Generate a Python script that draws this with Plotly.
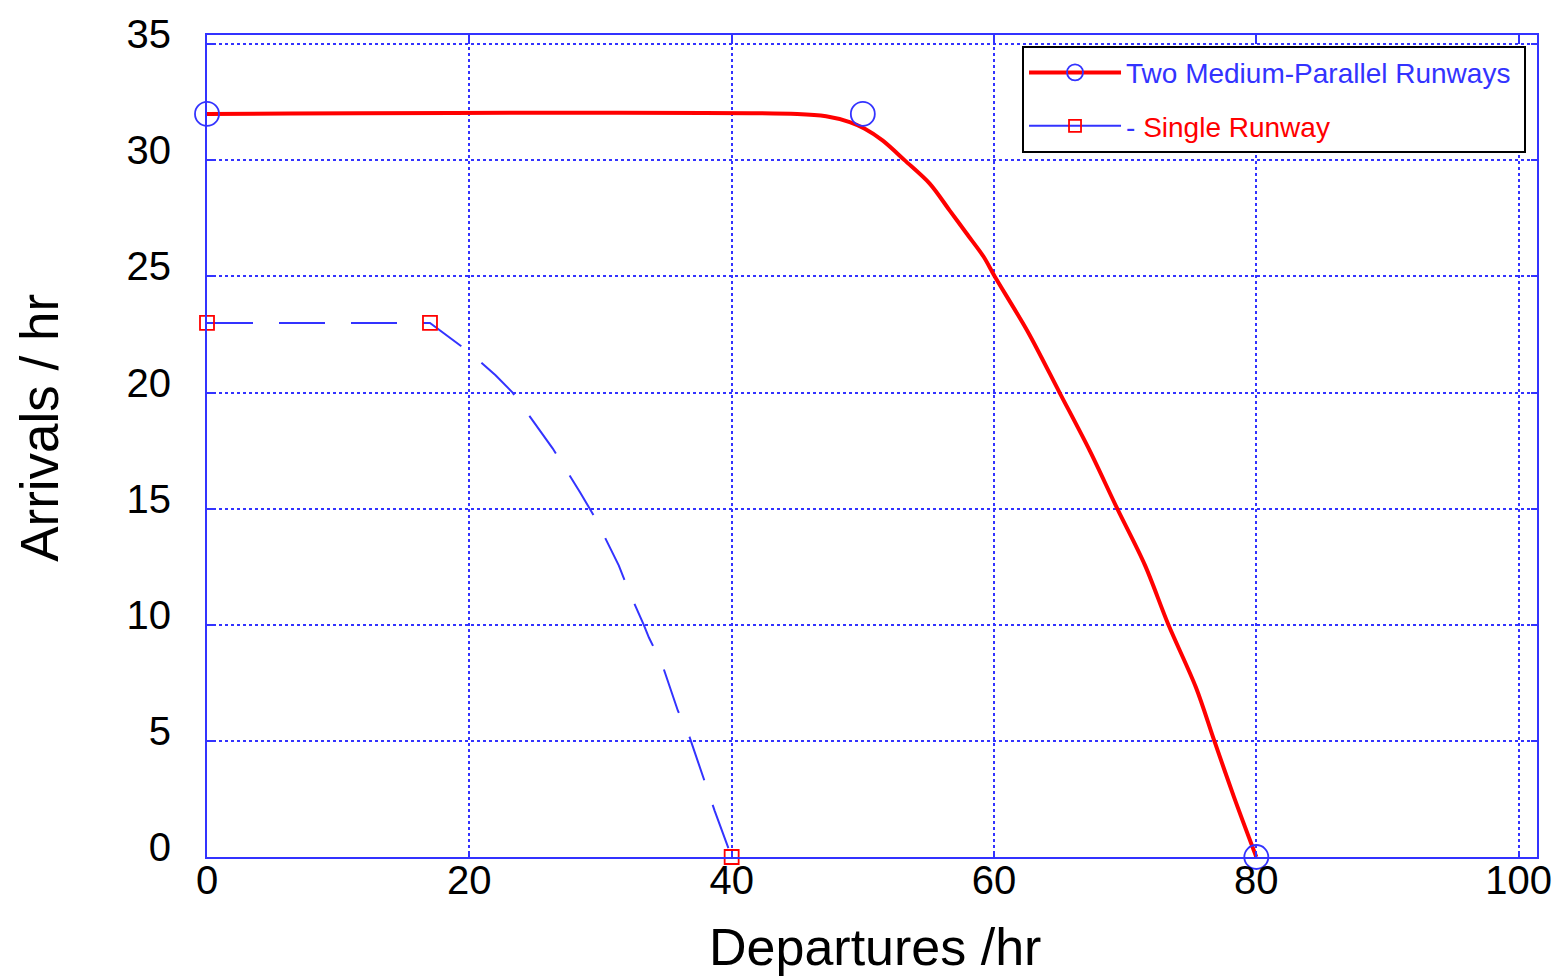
import plotly.graph_objects as go

# --- Data ---
two_x = [0, 45.0, 47.2, 49.0, 50.15, 51.5, 53.2, 55.1, 56.6, 57.9, 59.2, 60.06,
         62.6, 65.0, 67.3, 69.4, 71.5, 73.3, 75.4, 76.8, 78.3, 80.0]
two_y = [32, 32, 31.9, 31.65, 31.36, 30.86, 30.0, 29.0, 27.86, 26.86, 25.86, 25.0,
         22.6, 20.0, 17.5, 15.0, 12.58, 10.0, 7.3, 5.0, 2.58, 0.0]
two_mark_x = [0, 50, 80]
two_mark_y = [32, 32, 0]

single_x = [0, 17, 20.1, 22.0, 23.3, 24.8, 26.35, 28.45, 29.65, 31.4, 32.2, 33.3,
            33.7, 34.7, 35.9, 36.8, 38.0, 38.7, 40.0]
single_y = [23, 23, 21.7, 20.75, 20.0, 18.8, 17.6, 15.7, 14.55, 12.55, 11.4, 10.0,
            9.44, 8.3, 6.3, 5.15, 3.15, 2.0, 0.0]
single_mark_x = [0, 17, 40]
single_mark_y = [23, 23, 0]

x_ticks = [0, 20, 40, 60, 80, 100]
y_ticks = [0, 5, 10, 15, 20, 25, 30, 35]

x_title = "Departures /hr"
y_title = "Arrivals / hr"

BLUE = "#3333ff"
RED = "#ff0000"
FONT = "Liberation Sans, Arial, Helvetica, sans-serif"

fig = go.Figure()

# Single runway dashed curve
fig.add_trace(go.Scatter(x=single_x, y=single_y, mode="lines",
                         line=dict(color=BLUE, width=2, dash="46px,26px"),
                         showlegend=False, hoverinfo="skip"))
fig.add_trace(go.Scatter(x=single_mark_x, y=single_mark_y, mode="markers",
                         marker=dict(symbol="square-open", size=14, color=RED,
                                     line=dict(width=1.8, color=RED)),
                         showlegend=False, cliponaxis=False))

# Two medium-parallel runways curve
fig.add_trace(go.Scatter(x=two_x, y=two_y, mode="lines",
                         line=dict(color=RED, width=4, shape="spline", smoothing=0.9),
                         showlegend=False, hoverinfo="skip"))
fig.add_trace(go.Scatter(x=two_mark_x, y=two_mark_y, mode="markers",
                         marker=dict(symbol="circle-open", size=24, color=BLUE,
                                     line=dict(width=1.8, color=BLUE)),
                         showlegend=False, cliponaxis=False))

# Legend entries
fig.add_trace(go.Scatter(x=[None], y=[None], mode="lines+markers",
                         name=f"<span style='color:{BLUE}'>Two Medium-Parallel Runways&nbsp;</span>",
                         line=dict(color=RED, width=4),
                         marker=dict(symbol="circle-open", size=16, color=BLUE,
                                     line=dict(width=1.8, color=BLUE)),
                         legendgroup="a"))
fig.add_trace(go.Scatter(x=[None], y=[None], mode="lines+markers",
                         name=f"<span style='color:{BLUE}'>- </span><span style='color:{RED}'>Single Runway</span>",
                         line=dict(color=BLUE, width=2),
                         marker=dict(symbol="square-open", size=12, color=RED,
                                     line=dict(width=1.8, color=RED)),
                         legendgroup="b"))

axis_common = dict(
    showline=True, linecolor=BLUE, linewidth=2, mirror="allticks",
    ticks="inside", ticklen=6, tickwidth=2, tickcolor=BLUE,
    showgrid=True, gridcolor=BLUE, gridwidth=1.5, griddash="dot",
    zeroline=False, ticklabeloverflow="allow",
    tickfont=dict(family=FONT, size=40, color="black"),
)

fig.update_xaxes(range=[0, 101.4], tickvals=x_ticks,
                 ticktext=[str(v) for v in x_ticks],
                 ticklabelstandoff=-13,
                 **axis_common)
fig.update_yaxes(range=[0, 35.4], tickvals=y_ticks,
                 ticktext=[str(v) for v in y_ticks],
                 ticklabelshift=-10, ticklabelstandoff=26,
                 **axis_common)

fig.add_annotation(text=x_title, xref="paper", yref="paper",
                   x=0.502, y=-0.110, xanchor="center", yanchor="middle",
                   showarrow=False, font=dict(family=FONT, size=52, color="black"))
fig.add_annotation(text=y_title, xref="paper", yref="paper", textangle=-90,
                   x=-0.1256, y=0.522, xanchor="center", yanchor="middle",
                   showarrow=False, font=dict(family=FONT, size=53, color="black"))

fig.update_layout(
    width=1566, height=978,
    margin=dict(l=207, r=29, t=30, b=121),
    paper_bgcolor="white", plot_bgcolor="white",
    font=dict(family=FONT),
    legend=dict(x=0.6128, y=0.987, xanchor="left", yanchor="top",
                bgcolor="white", bordercolor="black", borderwidth=2,
                font=dict(family=FONT, size=28),
                itemwidth=92, tracegroupgap=14, traceorder="grouped"),
)

fig.write_html("out.html", config={"displayModeBar": False},
               post_script="document.body.style.margin='0';document.body.style.overflow='hidden';")
